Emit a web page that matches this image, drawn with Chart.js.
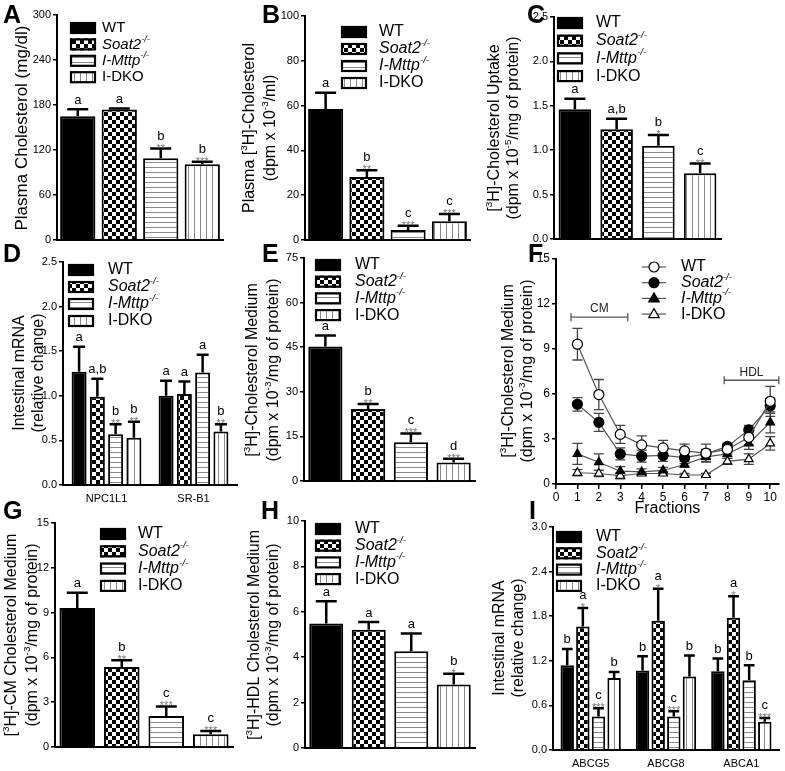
<!DOCTYPE html>
<html>
<head>
<meta charset="utf-8">
<title>Intestinal cholesterol panels</title>
<script src="https://cdn.jsdelivr.net/npm/chart.js@4.4.1/dist/chart.umd.min.js"></script>
<style>
  html, body { margin: 0; padding: 0; background: #fff; }
  #figure { position: relative; width: 785px; height: 771px; overflow: hidden; }
  #figure canvas { position: absolute; left: 0; top: 0; }
</style>
</head>
<body>
<div id="figure">
  <canvas id="panelA" width="785" height="771"></canvas>
  <canvas id="panelB" width="785" height="771"></canvas>
  <canvas id="panelC" width="785" height="771"></canvas>
  <canvas id="panelD" width="785" height="771"></canvas>
  <canvas id="panelE" width="785" height="771"></canvas>
  <canvas id="panelF" width="785" height="771"></canvas>
  <canvas id="panelG" width="785" height="771"></canvas>
  <canvas id="panelH" width="785" height="771"></canvas>
  <canvas id="panelI" width="785" height="771"></canvas>
</div>
<script>
const FONT = "'Liberation Sans', Arial, Helvetica, sans-serif";
const W = 785, H = 771;
const Y_W = 40;

const genotypes = ["WT", "Soat2", "I-Mttp", "I-DKO"];
const legendLabels = ["WT", "*Soat2*{-/-}", "*I-Mttp*{-/-}", "I-DKO"];

// A - plasma cholesterol (mg/dl)
const plasmaChol = [165, 174, 109, 101];
const plasmaCholErr = [9.5, 1.2, 13, 3.5];
const plasmaCholSig = ["a", "a", "b", "b"];
const plasmaCholStars = ["", "", "**", "***"];
const plasmaCholTicks = [0, 60, 120, 180, 240, 300];

// B - plasma [3H]-cholesterol
const plasma3H = [58.5, 28.1, 4.5, 8.4];
const plasma3HErr = [7.2, 3, 1.9, 3.2];
const plasma3HSig = ["a", "b", "c", "c"];
const plasma3HStars = ["", "**", "***", "***"];
const plasma3HTicks = [0, 20, 40, 60, 80, 100];

// C - cholesterol uptake
const uptake = [1.46, 1.235, 1.05, 0.74];
const uptakeErr = [0.12, 0.12, 0.12, 0.11];
const uptakeSig = ["a", "a,b", "b", "c"];
const uptakeStars = ["", "", "*", "**"];
const uptakeTicks = [0, 0.5, 1, 1.5, 2, 2.5];

// D - intestinal mRNA
const genesD = ["NPC1L1", "SR-B1"];
const mrnaD = [[1.27, 0.99, 0.57, 0.53], [1.0, 1.02, 1.26, 0.6]];
const mrnaDErr = [[0.28, 0.2, 0.11, 0.18], [0.17, 0.14, 0.2, 0.08]];
const mrnaDSig = [["a", "a,b", "b", "b"], ["a", "a", "a", "b"]];
const mrnaDStars = [["", "", "**", "**"], ["", "", "", "**"]];
const mrnaDTicks = [0, 0.5, 1, 1.5, 2, 2.5];

// E - cholesterol in medium
const medium = [45.2, 24.2, 13, 6.2];
const mediumErr = [3.7, 1.7, 3, 1.3];
const mediumSig = ["a", "b", "c", "d"];
const mediumStars = ["", "**", "***", "***"];
const mediumTicks = [0, 15, 30, 45, 60, 75];

// F - medium fractions
const fractions = [1, 2, 3, 4, 5, 6, 7, 8, 9, 10];
const fractionTicks = [0, 1, 2, 3, 4, 5, 6, 7, 8, 9, 10];
const fWt = [9.3, 5.95, 3.3, 2.6, 2.4, 2.2, 2.05, 2.3, 3.1, 5.5];
const fWtErr = [1.05, 1.0, 0.6, 0.6, 0.5, 0.45, 0.6, 0.3, 0.5, 1.0];
const fSoat2 = [5.3, 4.1, 2.0, 1.85, 1.9, 1.75, 2.0, 2.5, 3.6, 5.2];
const fSoat2Err = [0.45, 0.6, 0.4, 0.4, 0.4, 0.4, 0.3, 0.2, 0.3, 0.5];
const fMttp = [2.0, 1.45, 0.85, 0.8, 0.9, 1.3, 1.8, 2.0, 2.7, 4.1];
const fMttpErr = [0.7, 0.55, 0.3, 0.2, 0.2, 0.2, 0.3, 0.3, 0.4, 0.7];
const fDko = [0.75, 0.7, 0.55, 0.7, 0.7, 0.6, 0.6, 1.5, 1.65, 2.7];
const fDkoErr = [0.2, 0.2, 0.2, 0.1, 0.1, 0.1, 0.1, 0.2, 0.35, 0.45];
const fYTicks = [0, 3, 6, 9, 12, 15];
const fBracketLabels = ["CM", "HDL"];
const fBracketFrom = [0.7, 7.85];
const fBracketTo = [3.35, 10.4];
const fBracketLevel = [11.1, 6.9];

// G - CM cholesterol in medium
const cmMedium = [9.3, 5.36, 2.08, 0.85];
const cmMediumErr = [1.03, 0.45, 0.64, 0.22];
const cmMediumSig = ["a", "b", "c", "c"];
const cmMediumStars = ["", "**", "***", "***"];
const cmMediumTicks = [0, 3, 6, 9, 12, 15];

// H - HDL cholesterol in medium
const hdlMedium = [5.49, 5.21, 4.26, 2.8];
const hdlMediumErr = [0.97, 0.34, 0.78, 0.47];
const hdlMediumSig = ["a", "a", "a", "b"];
const hdlMediumStars = ["", "", "", "*"];
const hdlMediumTicks = [0, 2, 4, 6, 8, 10];

// I - intestinal mRNA (transporters)
const genesI = ["ABCG5", "ABCG8", "ABCA1"];
const mrnaI = [[1.14, 1.66, 0.45, 0.97], [1.07, 1.74, 0.45, 0.99], [1.06, 1.78, 0.94, 0.38]];
const mrnaIErr = [[0.22, 0.25, 0.11, 0.08], [0.19, 0.43, 0.07, 0.28], [0.17, 0.29, 0.2, 0.05]];
const mrnaISig = [["b", "a", "c", "b"], ["b", "a", "c", "b"], ["b", "a", "b", "c"]];
const mrnaIStars = [["", "*", "***", ""], ["", "*", "***", ""], ["", "*", "", "***"]];
const mrnaITicks = [0, 0.6, 1.2, 1.8, 2.4, 3.0];

Chart.defaults.font.family = FONT;
Chart.defaults.color = "#000";

function makeFill(kind) {
  if (kind === "solid") return "#000";
  const c = document.createElement("canvas");
  const g = c.getContext("2d");
  if (kind === "checker") {
    c.width = 8; c.height = 8;
    g.fillStyle = "#fff"; g.fillRect(0, 0, 8, 8);
    g.fillStyle = "#000"; g.fillRect(0, 0, 4, 4); g.fillRect(4, 4, 4, 4);
  } else if (kind === "hstripe") {
    c.width = 6; c.height = 5;
    g.fillStyle = "#fff"; g.fillRect(0, 0, 6, 5);
    g.fillStyle = "#8a8a8a"; g.fillRect(0, 2, 6, 1);
  } else {
    c.width = 6; c.height = 6;
    g.fillStyle = "#fff"; g.fillRect(0, 0, 6, 6);
    g.fillStyle = "#8a8a8a"; g.fillRect(2, 0, 1, 6);
  }
  return g.createPattern(c, "repeat");
}
const fills = ["solid", "checker", "hstripe", "vstripe"].map(makeFill);
const fMarkers = [
  { shape: "circle", fill: "#fff" },
  { shape: "circle", fill: "#000" },
  { shape: "triangle", fill: "#000" },
  { shape: "triangle", fill: "#fff" }
];

// "*x*" = italic, "{x}" = superscript
function parseRich(s) {
  const out = [];
  let italic = false;
  s.split(/(\*[^*]*\*|\{[^}]*\})/).forEach(tok => {
    if (!tok) return;
    if (tok[0] === "*") { out.push({ t: tok.slice(1, -1), i: true, s: false }); italic = true; }
    else if (tok[0] === "{") out.push({ t: tok.slice(1, -1), i: italic, s: true });
    else { out.push({ t: tok, i: false, s: false }); italic = false; }
  });
  return out;
}

function drawRich(ctx, text, x, y, fs, align) {
  const segs = parseRich(text).map(s => {
    const size = s.s ? fs * 0.62 : fs;
    const font = (s.i ? "italic " : "") + size + "px " + FONT;
    ctx.font = font;
    return { t: s.t, font, w: ctx.measureText(s.t).width, dy: s.s ? -fs * 0.36 : 0 };
  });
  const total = segs.reduce((a, s) => a + s.w, 0);
  let cx = align === "center" ? x - total / 2 : x;
  ctx.textAlign = "left";
  ctx.textBaseline = "middle";
  segs.forEach(s => { ctx.font = s.font; ctx.fillText(s.t, cx, y + s.dy); cx += s.w; });
}

function drawTitle(ctx, title) {
  title.lines.forEach((line, i) => {
    ctx.save();
    ctx.translate(title.xs[i], title.y);
    ctx.rotate(-Math.PI / 2);
    ctx.fillStyle = "#000";
    drawRich(ctx, line, 0, 0, title.fs, "center");
    ctx.restore();
  });
}

function drawLetter(ctx, letter) {
  ctx.font = "bold 25px " + FONT;
  ctx.fillStyle = "#000";
  ctx.textAlign = "left";
  ctx.textBaseline = "alphabetic";
  ctx.fillText(letter[0], letter[1], letter[2]);
}

function drawMarker(ctx, m, x, y, r) {
  ctx.beginPath();
  if (m.shape === "circle") ctx.arc(x, y, r, 0, Math.PI * 2);
  else {
    ctx.moveTo(x, y - r * 1.1);
    ctx.lineTo(x + r * 1.05, y + r * 0.7);
    ctx.lineTo(x - r * 1.05, y + r * 0.7);
    ctx.closePath();
  }
  ctx.fillStyle = m.fill; ctx.fill();
  ctx.strokeStyle = "#000"; ctx.lineWidth = 1.2; ctx.stroke();
}

function drawBarLegend(ctx, lg) {
  legendLabels.forEach((lab, k) => {
    const y = lg.y + k * lg.dy;
    ctx.fillStyle = fills[k];
    ctx.fillRect(lg.x, y - 6, 26, 12);
    ctx.strokeStyle = "#000"; ctx.lineWidth = 2.2;
    ctx.strokeRect(lg.x + 1, y - 5, 24, 10);
    ctx.fillStyle = "#000";
    drawRich(ctx, lab, lg.tx, y, lg.fs, "left");
  });
}

function drawLineLegend(ctx, lg) {
  legendLabels.forEach((lab, k) => {
    const y = lg.y + k * lg.dy;
    ctx.strokeStyle = "#555"; ctx.lineWidth = 1.2;
    ctx.beginPath(); ctx.moveTo(lg.x - 12, y); ctx.lineTo(lg.x + 12, y); ctx.stroke();
    drawMarker(ctx, fMarkers[k], lg.x, y, 5);
    ctx.fillStyle = "#000";
    drawRich(ctx, lab, lg.tx, y, lg.fs, "left");
  });
}

function yAxis(ticks, dec, fs) {
  return {
    min: ticks[0],
    max: ticks[ticks.length - 1],
    afterBuildTicks: s => { s.ticks = ticks.map(v => ({ value: v })); },
    afterFit: s => { s.width = Y_W; },
    grid: { drawOnChartArea: false, drawTicks: true, tickLength: 4, color: "#000", lineWidth: 1.5 },
    border: { display: true, color: "#000", width: 2 },
    ticks: { padding: 2, color: "#000", font: { size: fs }, callback: v => Number(v).toFixed(dec) }
  };
}

// per panel: error bars, significance letters, legend, title, panel letter
function barDecor(p) {
  return {
    id: "barDecor",
    afterDatasetsDraw(chart) {
      const ctx = chart.ctx;
      const ys = chart.scales.y;
      ctx.save();
      chart.data.datasets.forEach((ds, k) => {
        chart.getDatasetMeta(k).data.forEach((bar, i) => {
          const yTop = ys.getPixelForValue(p.means[i][k] + p.errs[i][k]);
          const half = Math.min(10.5, bar.width * 0.4);
          ctx.strokeStyle = "#000"; ctx.lineWidth = 2.5;
          ctx.beginPath();
          ctx.moveTo(bar.x, bar.y); ctx.lineTo(bar.x, yTop);
          ctx.moveTo(bar.x - half, yTop); ctx.lineTo(bar.x + half, yTop);
          ctx.stroke();
          const st = p.stars[i][k];
          ctx.textAlign = "center"; ctx.textBaseline = "alphabetic";
          if (st) {
            ctx.font = "11px " + FONT; ctx.fillStyle = "#777";
            ctx.fillText(st, bar.x, yTop + 3);
          }
          ctx.font = "13px " + FONT; ctx.fillStyle = "#000";
          ctx.fillText(p.sig[i][k], bar.x, yTop - (st ? 9 : 5.5));
        });
      });
      drawBarLegend(ctx, p.legend);
      drawTitle(ctx, p.title);
      drawLetter(ctx, p.letter);
      ctx.restore();
    }
  };
}

function barPanel(p) {
  const xh = p.xLabels ? 20 : 6;
  const datasets = genotypes.map((g, k) => ({
    label: g,
    data: p.means.map(row => row[k]),
    backgroundColor: fills[k],
    borderColor: "#000",
    borderWidth: 2,
    categoryPercentage: p.catPct,
    barPercentage: p.barPct
  }));
  return new Chart(document.getElementById(p.id), {
    type: "bar",
    data: { labels: p.cats, datasets },
    options: {
      responsive: false,
      animation: false,
      events: [],
      layout: { padding: { left: p.box.left - Y_W, top: p.box.top, right: W - p.box.right, bottom: H - p.box.bottom - xh } },
      plugins: { legend: { display: false }, tooltip: { enabled: false } },
      scales: {
        x: {
          afterFit: s => { s.height = xh; },
          grid: { display: false, drawTicks: false },
          border: { display: true, color: "#000", width: 2 },
          ticks: { display: !!p.xLabels, padding: 7, color: "#000", font: { size: 11 } }
        },
        y: yAxis(p.ticks, p.dec, 11)
      }
    },
    plugins: [barDecor(p)]
  });
}

const medTitle2 = "(dpm x 10{-3}/mg of protein)";

barPanel({
  id: "panelA", letter: ["A", 3, 23], cats: [""],
  means: [plasmaChol], errs: [plasmaCholErr], sig: [plasmaCholSig], stars: [plasmaCholStars],
  ticks: plasmaCholTicks, dec: 0,
  box: { left: 57, top: 15, right: 223, bottom: 240 }, catPct: 1, barPct: 0.85,
  title: { lines: ["Plasma Cholesterol (mg/dl)"], xs: [22], y: 128, fs: 17 },
  legend: { x: 70, y: 28, dy: 16.4, tx: 102, fs: 15 }
});

barPanel({
  id: "panelB", letter: ["B", 262, 23], cats: [""],
  means: [plasma3H], errs: [plasma3HErr], sig: [plasma3HSig], stars: [plasma3HStars],
  ticks: plasma3HTicks, dec: 0,
  box: { left: 305, top: 16, right: 470, bottom: 240 }, catPct: 1, barPct: 0.85,
  title: { lines: ["Plasma [{3}H]-Cholesterol", "(dpm x 10{-3}/ml)"], xs: [250, 271], y: 128, fs: 16 },
  legend: { x: 341, y: 32, dy: 17, tx: 379, fs: 16 }
});

barPanel({
  id: "panelC", letter: ["C", 527, 23], cats: [""],
  means: [uptake], errs: [uptakeErr], sig: [uptakeSig], stars: [uptakeStars],
  ticks: uptakeTicks, dec: 1,
  box: { left: 554, top: 17, right: 721, bottom: 239 }, catPct: 1, barPct: 0.78,
  title: { lines: ["[{3}H]-Cholesterol Uptake", "(dpm x 10{-5}/mg of protein)"], xs: [495, 514], y: 128, fs: 16 },
  legend: { x: 557, y: 23, dy: 17.7, tx: 596, fs: 16 }
});

barPanel({
  id: "panelD", letter: ["D", 3, 262], cats: genesD, xLabels: true,
  means: mrnaD, errs: mrnaDErr, sig: mrnaDSig, stars: mrnaDStars,
  ticks: mrnaDTicks, dec: 1,
  box: { left: 63, top: 262, right: 237, bottom: 485 }, catPct: 0.84, barPct: 0.82,
  title: { lines: ["Intestinal mRNA", "(relative change)"], xs: [20, 39], y: 373, fs: 16 },
  legend: { x: 68, y: 270, dy: 17, tx: 108, fs: 16 }
});

barPanel({
  id: "panelE", letter: ["E", 262, 262], cats: [""],
  means: [medium], errs: [mediumErr], sig: [mediumSig], stars: [mediumStars],
  ticks: mediumTicks, dec: 0,
  box: { left: 304, top: 258, right: 475, bottom: 481 }, catPct: 1, barPct: 0.8,
  title: { lines: ["[{3}H]-Cholesterol Medium", medTitle2], xs: [253, 274], y: 370, fs: 16 },
  legend: { x: 315, y: 265, dy: 16.7, tx: 355, fs: 16 }
});

// F - line chart of medium fractions
const fSeries = [[fWt, fWtErr], [fSoat2, fSoat2Err], [fMttp, fMttpErr], [fDko, fDkoErr]];
new Chart(document.getElementById("panelF"), {
  type: "line",
  data: {
    datasets: fSeries.map(([mean], k) => ({
      label: genotypes[k],
      data: fractions.map((x, i) => ({ x, y: mean[i] })),
      borderColor: "#555",
      borderWidth: 1.2,
      pointStyle: fMarkers[k].shape,
      pointRadius: 5,
      pointBackgroundColor: fMarkers[k].fill,
      pointBorderColor: "#000",
      pointBorderWidth: 1.2,
      tension: 0,
      fill: false
    }))
  },
  options: {
    responsive: false,
    animation: false,
    events: [],
    layout: { padding: { left: 556 - Y_W, top: 258.5, right: W - 782, bottom: H - 484 - 30 } },
    plugins: { legend: { display: false }, tooltip: { enabled: false } },
    scales: {
      x: {
        type: "linear", min: 0, max: 10.4,
        afterBuildTicks: s => { s.ticks = fractionTicks.map(v => ({ value: v })); },
        afterFit: s => { s.height = 30; },
        grid: { drawOnChartArea: false, drawTicks: true, tickLength: 5, color: "#000", lineWidth: 1.5 },
        border: { display: true, color: "#000", width: 2 },
        ticks: { padding: 1, color: "#000", font: { size: 12 } }
      },
      y: yAxis(fYTicks, 0, 12)
    }
  },
  plugins: [{
    id: "fDecor",
    beforeDatasetsDraw(chart) {
      const ctx = chart.ctx;
      const xs = chart.scales.x, ys = chart.scales.y;
      ctx.save();
      ctx.strokeStyle = "#444"; ctx.lineWidth = 1.3;
      fSeries.forEach(([mean, err], k) => {
        chart.getDatasetMeta(k).data.forEach((pt, i) => {
          const yT = ys.getPixelForValue(mean[i] + err[i]);
          const yB = ys.getPixelForValue(mean[i] - err[i]);
          ctx.beginPath();
          ctx.moveTo(pt.x, yB); ctx.lineTo(pt.x, yT);
          ctx.moveTo(pt.x - 5, yT); ctx.lineTo(pt.x + 5, yT);
          ctx.moveTo(pt.x - 5, yB); ctx.lineTo(pt.x + 5, yB);
          ctx.stroke();
        });
      });
      // CM / HDL brackets
      fBracketLabels.forEach((lab, j) => {
        const x1 = xs.getPixelForValue(fBracketFrom[j]);
        const x2 = xs.getPixelForValue(fBracketTo[j]);
        const y = ys.getPixelForValue(fBracketLevel[j]);
        ctx.strokeStyle = "#555"; ctx.lineWidth = 1.3;
        ctx.beginPath();
        ctx.moveTo(x1, y); ctx.lineTo(x2, y);
        ctx.moveTo(x1, y - 4); ctx.lineTo(x1, y + 4);
        ctx.moveTo(x2, y - 4); ctx.lineTo(x2, y + 4);
        ctx.stroke();
        ctx.fillStyle = "#222"; ctx.font = "12px " + FONT;
        ctx.textAlign = "center"; ctx.textBaseline = "middle";
        ctx.fillText(lab, (x1 + x2) / 2, y - 8);
      });
      ctx.restore();
    },
    afterDraw(chart) {
      const ctx = chart.ctx;
      ctx.save();
      drawLineLegend(ctx, { x: 654, y: 267, dy: 15.7, tx: 681, fs: 16 });
      drawTitle(ctx, { lines: ["[{3}H]-Cholesterol Medium", medTitle2], xs: [509, 528], y: 371, fs: 16 });
      drawLetter(ctx, ["F", 528, 262]);
      ctx.font = "16px " + FONT; ctx.fillStyle = "#000";
      ctx.textAlign = "center"; ctx.textBaseline = "middle";
      ctx.fillText("Fractions", (chart.chartArea.left + chart.chartArea.right) / 2, 509);
      ctx.restore();
    }
  }]
});

barPanel({
  id: "panelG", letter: ["G", 3, 519], cats: [""],
  means: [cmMedium], errs: [cmMediumErr], sig: [cmMediumSig], stars: [cmMediumStars],
  ticks: cmMediumTicks, dec: 0,
  box: { left: 55, top: 523, right: 233, bottom: 747 }, catPct: 1, barPct: 0.8,
  title: { lines: ["[{3}H]-CM Cholesterol Medium", medTitle2], xs: [12, 33], y: 635, fs: 16 },
  legend: { x: 100, y: 534, dy: 17.3, tx: 138, fs: 16 }
});

barPanel({
  id: "panelH", letter: ["H", 261, 519], cats: [""],
  means: [hdlMedium], errs: [hdlMediumErr], sig: [hdlMediumSig], stars: [hdlMediumStars],
  ticks: hdlMediumTicks, dec: 0,
  box: { left: 305, top: 521, right: 475, bottom: 748 }, catPct: 1, barPct: 0.8,
  title: { lines: ["[{3}H]-HDL Cholesterol Medium", medTitle2], xs: [255, 274], y: 635, fs: 16 },
  legend: { x: 315, y: 529, dy: 16.7, tx: 355, fs: 16 }
});

barPanel({
  id: "panelI", letter: ["I", 529, 519], cats: genesI, xLabels: true,
  means: mrnaI, errs: mrnaIErr, sig: mrnaISig, stars: mrnaIStars,
  ticks: mrnaITicks, dec: 1,
  box: { left: 553, top: 527, right: 779, bottom: 750 }, catPct: 0.83, barPct: 0.86,
  title: { lines: ["Intestinal mRNA", "(relative change)"], xs: [500, 519], y: 638, fs: 16 },
  legend: { x: 556, y: 537, dy: 16.3, tx: 596, fs: 16 }
});
</script>
</body>
</html>
